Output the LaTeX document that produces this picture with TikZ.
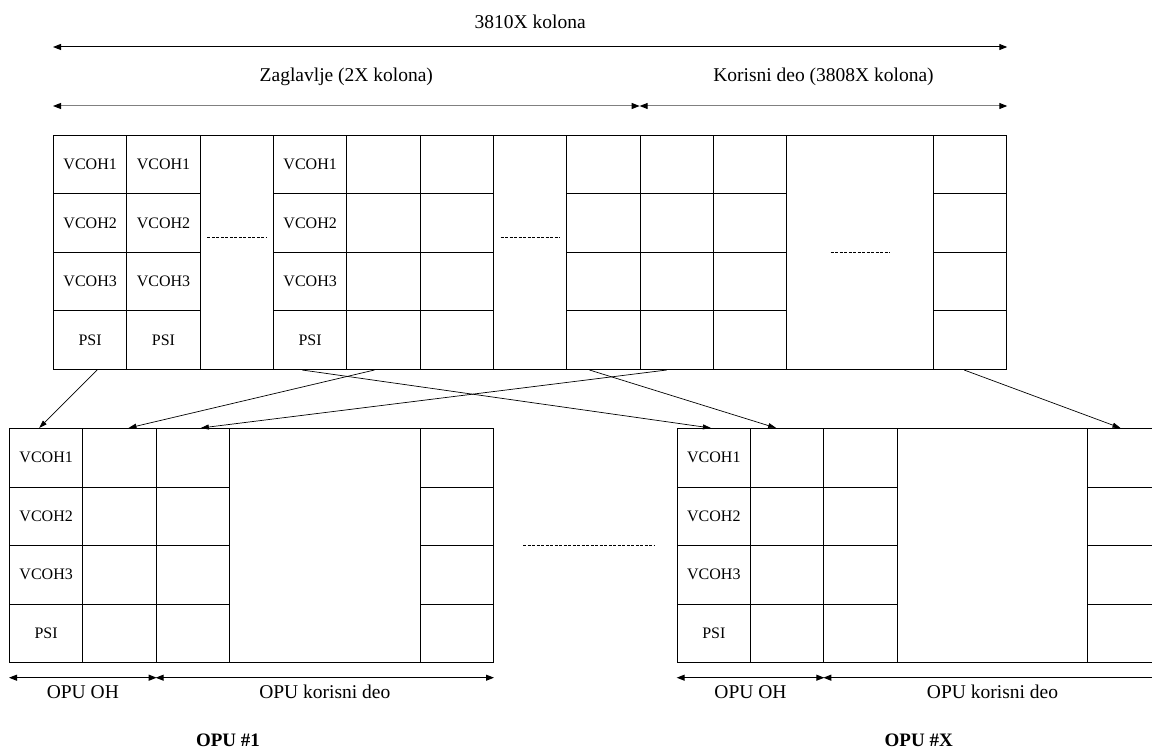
\documentclass[tikz,border=0pt]{standalone}
\usepackage{fontspec}
\setmainfont{Liberation Serif}
\usetikzlibrary{arrows.meta}

\begin{document}
\begin{tikzpicture}[
  x=1pt, y=-1pt,
  cell/.style={draw, rectangle, anchor=north west, inner sep=0pt, minimum width=73.33pt, minimum height=58.5pt, line width=1pt, font=\fontsize{16}{18}\selectfont},
  tall/.style={cell, minimum height=234pt},
  dots/.style={line width=0.6pt, dash pattern=on 3pt off 1.5pt},
  dim/.style={{Triangle[length=8pt,width=6pt,color=black]}-{Triangle[length=8pt,width=6pt,color=black]}, line width=1pt},
  link/.style={-{Triangle[length=8pt,width=5pt]}, line width=0.7pt},
  lbl/.style={font=\fontsize{19.5}{22}\selectfont},
  title/.style={font=\bfseries\fontsize{19}{22}\selectfont}
]
\useasboundingbox (0,0) rectangle (1152,751);

\foreach \c in {0,1,3}
  \foreach \r/\t in {0/VCOH1,1/VCOH2,2/VCOH3,3/PSI}
    \node[cell] (t\c-\r) at ({53+\c*73.33},{135+\r*58.5}) {\t};
\foreach \c in {4,5,7,8,9,12}
  \foreach \r in {0,...,3}
    \node[cell] (t\c-\r) at ({53+\c*73.33},{135+\r*58.5}) {};
\foreach \c in {2,6}
  \node[tall] (t\c) at ({53+\c*73.33},135) {};
\node[tall, minimum width=146.67pt] (t10) at (786.33,135) {};

\draw[dots] ([xshift=-29.5pt,yshift=15pt]t2.center) -- ([xshift=29.5pt,yshift=15pt]t2.center);
\draw[dots] ([xshift=-29.5pt,yshift=15pt]t6.center) -- ([xshift=29.5pt,yshift=15pt]t6.center);
\draw[dots] ([xshift=-29.5pt]t10.center) -- ([xshift=29.5pt]t10.center);

\draw[dim] ([yshift=88pt]t0-0.north west) -- node[lbl, yshift=25pt] (total) {3810X kolona} ([yshift=88pt]t12-0.north east);
\draw[dim, draw=black!50] ([yshift=29pt]t0-0.north west) -- node[lbl, yshift=29pt] (header) {Zaglavlje (2X kolona)} ([yshift=29pt]t8-0.north west);
\draw[dim, draw=black!50] ([yshift=29pt]t8-0.north west) -- node[lbl, yshift=29pt] (payload) {Korisni deo (3808X kolona)} ([yshift=29pt]t12-0.north east);

\foreach \g/\x in {p/9,q/676.67}{
  \foreach \r/\t in {0/VCOH1,1/VCOH2,2/VCOH3,3/PSI}
    \node[cell] (\g0-\r) at (\x,{428+\r*58.5}) {\t};
  \foreach \c in {1,2}
    \foreach \r in {0,...,3}
      \node[cell] (\g\c-\r) at ({\x+\c*73.33},{428+\r*58.5}) {};
  \foreach \r in {0,...,3}
    \node[cell] (\g4-\r) at ({\x+410.67},{428+\r*58.5}) {};
  \node[tall, minimum width=190.67pt] (\g3) at ({\x+220},428) {};
  \draw[dim] ([yshift=-14.7pt]\g0-3.south west) -- node[lbl, yshift=-14.5pt] (\g-oh) {OPU OH} ([yshift=-14.7pt]\g1-3.south east);
  \draw[dim] ([yshift=-14.7pt]\g2-3.south west) -- node[lbl, yshift=-14.5pt] (\g-pl) {OPU korisni deo} ([yshift=-14.7pt]\g4-3.south east);
}
\node[title] (p-name) at (228,740.5) {OPU \#1};
\node[title] (q-name) at (918.7,740.5) {OPU \#X};

\draw[dots] ([xshift=29pt]p4-2.north east) -- ([xshift=-22pt]q0-2.north west);

\draw[link] ([xshift=7pt]t0-3.south) -- ([xshift=-7pt]p0-0.north);
\draw[link] ([xshift=-9pt]t4-3.south) -- ([xshift=9pt]p1-0.north);
\draw[link] ([xshift=-10pt]t8-3.south) -- ([xshift=8pt]p2-0.north);
\draw[link] ([xshift=-8pt]t3-3.south) -- ([xshift=-3pt]q0-0.north);
\draw[link] ([xshift=-14pt]t7-3.south) -- ([xshift=-11pt]q1-0.north);
\draw[link] ([xshift=-6pt]t12-3.south) -- ([xshift=-4pt]q4-0.north);
\end{tikzpicture}
\end{document}
